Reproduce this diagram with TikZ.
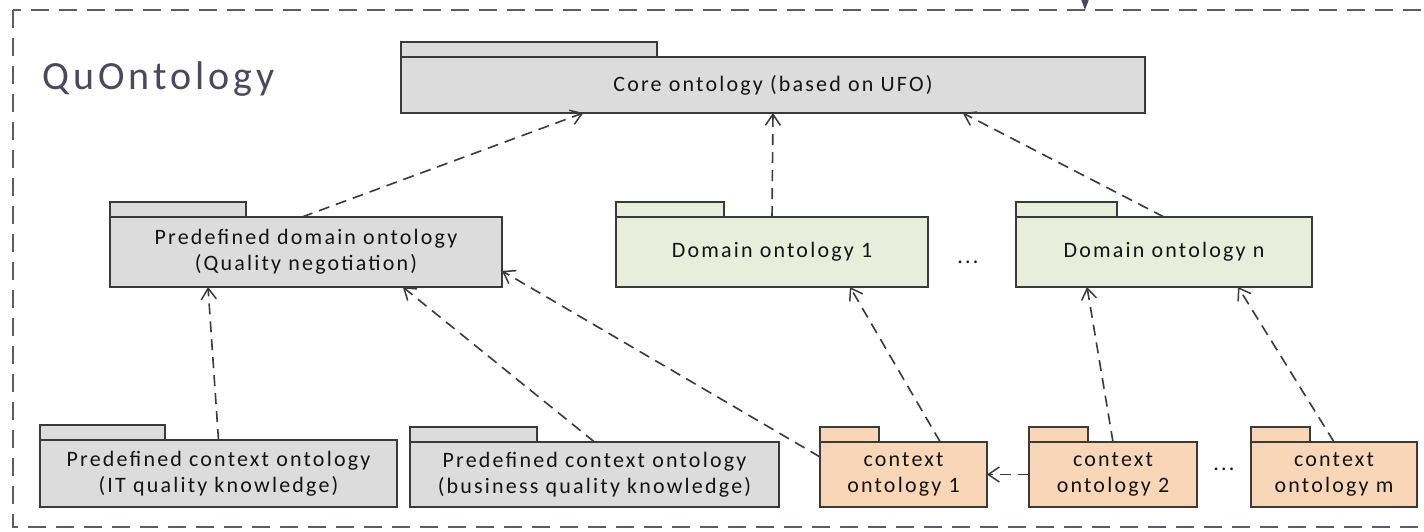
\documentclass[tikz,border=0pt]{standalone}
\usepackage{fontspec}
\setmainfont{Carlito}[LetterSpace=10]
\newfontfamily\titlefont{Carlito}[LetterSpace=10]
\usetikzlibrary{arrows.meta,calc}

\definecolor{pkggray}{RGB}{220,220,220}
\definecolor{pkggreen}{RGB}{233,238,220}
\definecolor{pkgpeach}{RGB}{250,214,184}
\definecolor{edgec}{RGB}{58,58,58}
\definecolor{framec}{RGB}{92,92,106}
\definecolor{titlec}{RGB}{75,72,94}
\definecolor{textc}{RGB}{20,20,20}

\tikzset{
  pkgbody/.style={draw=edgec, line width=1.8pt, inner sep=0pt, outer sep=0pt,
    anchor=north west, align=center, text=textc,
    font=\fontsize{22}{26}\selectfont},
  pkgtab/.style={draw=edgec, line width=1.8pt},
  dep/.style={draw=edgec, line width=1.6pt, dash pattern=on 11pt off 7pt,
    -{Straight Barb[length=11pt,width=15pt,line width=1.5pt]}},
  dots/.style={text=textc, font=\fontsize{22}{26}\selectfont},
  frame/.style={draw=framec, line width=2pt, dash pattern=on 18pt off 10pt},
}

% package symbol: name, x, y, width, height, tab width, fill, label
\newcommand\umlpackage[8]{%
  \node[pkgbody, fill=#7, minimum width=#4pt, minimum height=#5pt] (#1) at (#2,#3) {#8};
  \draw[pkgtab, fill=#7] (#1.north west) rectangle ++(#6,-15);
}

\begin{document}
\begin{tikzpicture}[x=1pt,y=-1pt]
\useasboundingbox (0,0) rectangle (1424,532);
\clip (0,0) rectangle (1424,532);
\fill[white] (0,0) rectangle (1424,532);

% enclosing package frame
\draw[frame] (13,10) rectangle (1460,527);
\coordinate (extsrc) at (1085,-2);
\coordinate (exttgt) at (1085,10);
\draw[draw=titlec, line width=1.5pt, -{Triangle[length=10pt,width=7pt]}] (extsrc) -- (exttgt);

\node[anchor=base west, inner sep=0pt, text=titlec, font=\titlefont\fontsize{40}{46}\selectfont] (title) at (42,90) {QuOntology};

% core
\umlpackage{core}{401}{57}{744}{56}{256}{pkggray}{Core ontology (based on UFO)}

% domain level
\umlpackage{pdom}{110}{217}{392}{70}{136}{pkggray}{Predefined domain ontology\\(Quality negotiation)}
\umlpackage{dom1}{616}{217}{312}{70}{108}{pkggreen}{Domain ontology 1}
\umlpackage{domn}{1016}{217}{296}{70}{101}{pkggreen}{Domain ontology n}
\node[dots] (ddots) at (968,262) {...};

% context level
\umlpackage{itctx}{40}{440}{357}{67}{125}{pkggray}{Predefined context ontology\\(IT quality knowledge)}
\umlpackage{bizctx}{410}{442}{369}{65}{127}{pkggray}{Predefined context ontology\\(business quality knowledge)}
\umlpackage{ctx1}{820}{442}{167}{65}{59}{pkgpeach}{context\\ontology 1}
\umlpackage{ctx2}{1029}{442}{168}{65}{59}{pkgpeach}{context\\ontology 2}
\umlpackage{ctxm}{1251}{442}{166}{65}{59}{pkgpeach}{context\\ontology m}
\node[dots] (cdots) at (1224,469) {...};

% dependencies
\draw[dep] ($(pdom.north west)!0.49!(pdom.north east)$) -- ($(core.south west)!0.245!(core.south east)$);
\draw[dep] (dom1.north) -- (core.south);
\draw[dep] (domn.north) -- ($(core.south west)!0.755!(core.south east)$);

\draw[dep] (itctx.north) -- ($(pdom.south west)!0.25!(pdom.south east)$);
\draw[dep] (bizctx.north) -- ($(pdom.south west)!0.747!(pdom.south east)$);
\draw[dep] ($(ctx1.north west)!0.23!(ctx1.south west)$) -- ($(pdom.north east)!0.77!(pdom.south east)$);

\draw[dep] ($(ctx1.north west)!0.72!(ctx1.north east)$) -- ($(dom1.south west)!0.75!(dom1.south east)$);
\draw[dep] (ctx2.north) -- ($(domn.south west)!0.24!(domn.south east)$);
\draw[dep] (ctxm.north) -- ($(domn.south west)!0.75!(domn.south east)$);

\draw[dep] (ctx2.west) -- (ctx1.east);
\end{tikzpicture}
\end{document}
